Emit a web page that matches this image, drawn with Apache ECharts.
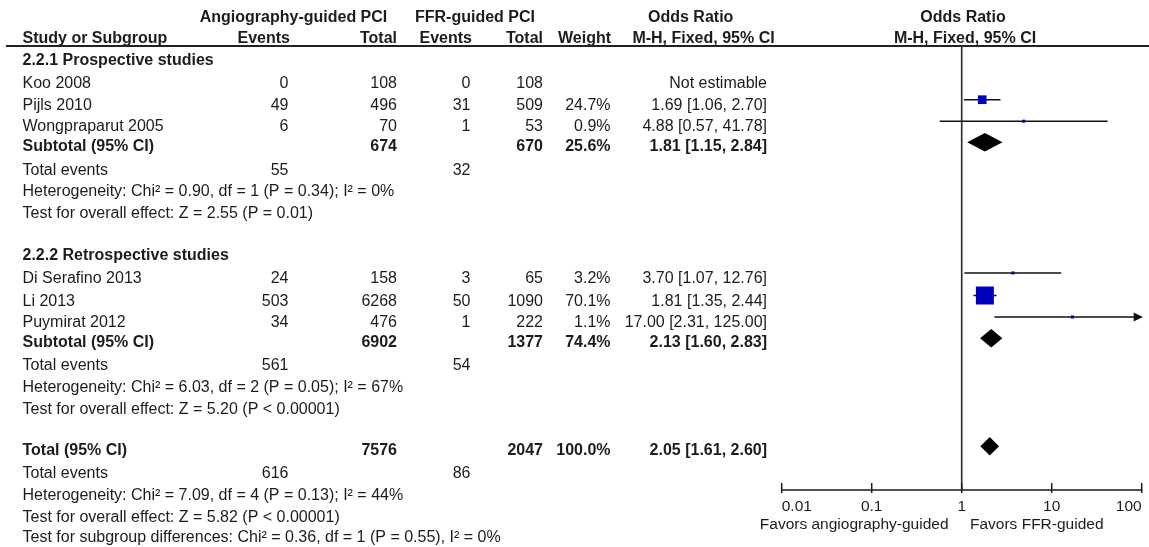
<!DOCTYPE html>
<html><head><meta charset="utf-8">
<script src="https://cdn.jsdelivr.net/npm/echarts@6/dist/echarts.min.js"></script>
<style>html,body{margin:0;padding:0;background:#fff}#c{width:1149px;height:547px}</style>
</head><body><div id="c"></div>
<script>
// ---------- DATA ----------
const studyNames   = ['Koo 2008', 'Pijls 2010', 'Wongpraparut 2005', 'Di Serafino 2013', 'Li 2013', 'Puymirat 2012'];
const studyGroup   = [0, 0, 0, 1, 1, 1];
const angioEvents  = [0, 49, 6, 24, 503, 34];
const angioTotal   = [108, 496, 70, 158, 6268, 476];
const ffrEvents    = [0, 31, 1, 3, 50, 1];
const ffrTotal     = [108, 509, 53, 65, 1090, 222];
const studyWeight  = [null, 24.7, 0.9, 3.2, 70.1, 1.1];
const studyOR      = [null, 1.69, 4.88, 3.70, 1.81, 17.00];
const studyLo      = [null, 1.06, 0.57, 1.07, 1.35, 2.31];
const studyHi      = [null, 2.70, 41.78, 12.76, 2.44, 125.00];

const groupNames     = ['2.2.1 Prospective studies', '2.2.2 Retrospective studies'];
const subAngioTotal  = [674, 6902];
const subFfrTotal    = [670, 1377];
const subWeight      = [25.6, 74.4];
const subOR          = [1.81, 2.13];
const subLo          = [1.15, 1.60];
const subHi          = [2.84, 2.83];
const subAngioEvents = [55, 561];
const subFfrEvents   = [32, 54];
const subChi         = ['0.90', '6.03'];
const subDf          = [1, 2];
const subHetP        = ['= 0.34', '= 0.05'];
const subI2          = [0, 67];
const subZ           = ['2.55', '5.20'];
const subZP          = ['= 0.01', '< 0.00001'];

const totAngioTotal = 7576, totFfrTotal = 2047, totWeight = '100.0';
const totOR = 2.05, totLo = 1.61, totHi = 2.60;
const totAngioEvents = 616, totFfrEvents = 86;
const totChi = '7.09', totDf = 4, totHetP = '= 0.13', totI2 = 44;
const totZ = '5.82', totZP = '< 0.00001';
const sgChi = '0.36', sgDf = 1, sgP = '= 0.55', sgI2 = 0;

const tickValues = [0.01, 0.1, 1, 10, 100];
const tickLabels = ['0.01', '0.1', '1', '10', '100'];
const favorsLeft = 'Favors angiography-guided';
const favorsRight = 'Favors FFR-guided';

// ---------- LAYOUT (pixels) ----------
const FONT = '"Liberation Sans", Arial, Helvetica, sans-serif';
const TXT = '#1c1c1c';
const col = { name: 22.5, aEv: 288.5, aTot: 397, fEv: 470.5, fTot: 543, wt: 610.5, orTxt: 767 };
const rowY = {
  h1: 18, h2: 38.7,
  groupTitle: [60.5, 255.3],
  study: [84, 105.5, 127, 278.7, 301.3, 322.8],
  sub: [146.5, 342.5], te: [171, 365.8], het: [192, 387.8], test: [213.5, 409.5],
  tot: 450.5, totTe: 473.8, totHet: 495.5, totTest: 517.2, sg: 537.8
};
const studyMarkShift = 5.8, diamondShift = 4.3;
const axisY = 490;

// ---------- TEXT ----------
const g = [];
function t(text, x, y, align, bold, size) {
  g.push({ type: 'text', x: x, y: y, z: 10, silent: true,
    style: { text: String(text), fill: TXT, align: align || 'left', verticalAlign: 'middle',
      font: (bold ? 'bold ' : '') + (size || 16) + 'px ' + FONT } });
}
const f2 = v => v.toFixed(2);
const orStr = (o, l, h) => f2(o) + ' [' + f2(l) + ', ' + f2(h) + ']';

// headers
t('Angiography-guided PCI', 293.5, rowY.h1, 'center', true);
t('FFR-guided PCI', 475, rowY.h1, 'center', true);
t('Odds Ratio', 690.7, rowY.h1, 'center', true);
t('Odds Ratio', 963, rowY.h1, 'center', true);
t('Study or Subgroup', col.name, rowY.h2, 'left', true);
t('Events', 290, rowY.h2, 'right', true);
t('Total', 397, rowY.h2, 'right', true);
t('Events', 472, rowY.h2, 'right', true);
t('Total', 543, rowY.h2, 'right', true);
t('Weight', 611, rowY.h2, 'right', true);
t('M-H, Fixed, 95% CI', 703.5, rowY.h2, 'center', true);
t('M-H, Fixed, 95% CI', 965, rowY.h2, 'center', true);

for (let gi = 0; gi < 2; gi++) {
  t(groupNames[gi], col.name, rowY.groupTitle[gi], 'left', true);
  for (let i = 0; i < studyNames.length; i++) {
    if (studyGroup[i] !== gi) continue;
    const y = rowY.study[i];
    t(studyNames[i], col.name, y);
    t(angioEvents[i], col.aEv, y, 'right');
    t(angioTotal[i], col.aTot, y, 'right');
    t(ffrEvents[i], col.fEv, y, 'right');
    t(ffrTotal[i], col.fTot, y, 'right');
    if (studyOR[i] == null) {
      t('Not estimable', col.orTxt, y, 'right');
    } else {
      t(studyWeight[i].toFixed(1) + '%', col.wt, y, 'right');
      t(orStr(studyOR[i], studyLo[i], studyHi[i]), col.orTxt, y, 'right');
    }
  }
  const ys = rowY.sub[gi];
  t('Subtotal (95% CI)', col.name, ys, 'left', true);
  t(subAngioTotal[gi], col.aTot, ys, 'right', true);
  t(subFfrTotal[gi], col.fTot, ys, 'right', true);
  t(subWeight[gi].toFixed(1) + '%', col.wt, ys, 'right', true);
  t(orStr(subOR[gi], subLo[gi], subHi[gi]), col.orTxt, ys, 'right', true);
  t('Total events', col.name, rowY.te[gi]);
  t(subAngioEvents[gi], col.aEv, rowY.te[gi], 'right');
  t(subFfrEvents[gi], col.fEv, rowY.te[gi], 'right');
  t('Heterogeneity: Chi\u00b2 = ' + subChi[gi] + ', df = ' + subDf[gi] + ' (P ' + subHetP[gi] + '); I\u00b2 = ' + subI2[gi] + '%', col.name, rowY.het[gi]);
  t('Test for overall effect: Z = ' + subZ[gi] + ' (P ' + subZP[gi] + ')', col.name, rowY.test[gi]);
}
t('Total (95% CI)', col.name, rowY.tot, 'left', true);
t(totAngioTotal, col.aTot, rowY.tot, 'right', true);
t(totFfrTotal, col.fTot, rowY.tot, 'right', true);
t(totWeight + '%', col.wt, rowY.tot, 'right', true);
t(orStr(totOR, totLo, totHi), col.orTxt, rowY.tot, 'right', true);
t('Total events', col.name, rowY.totTe);
t(totAngioEvents, col.aEv, rowY.totTe, 'right');
t(totFfrEvents, col.fEv, rowY.totTe, 'right');
t('Heterogeneity: Chi\u00b2 = ' + totChi + ', df = ' + totDf + ' (P ' + totHetP + '); I\u00b2 = ' + totI2 + '%', col.name, rowY.totHet);
t('Test for overall effect: Z = ' + totZ + ' (P ' + totZP + ')', col.name, rowY.totTest);
t('Test for subgroup differences: Chi\u00b2 = ' + sgChi + ', df = ' + sgDf + ' (P ' + sgP + '), I\u00b2 = ' + sgI2 + '%', col.name, rowY.sg);

t(favorsLeft, 948.5, 525, 'right', false, 15.5);
t(favorsRight, 970, 525, 'left', false, 15.5);

// header rule
g.push({ type: 'line', z: 11, silent: true, shape: { x1: 6, y1: 46, x2: 1149, y2: 46 }, style: { stroke: '#222', lineWidth: 2 } });

// ---------- SERIES DATA ----------
const studyData = [];
for (let i = 0; i < studyNames.length; i++) {
  if (studyOR[i] == null) continue;
  studyData.push([studyOR[i], studyLo[i], studyHi[i], rowY.study[i] - studyMarkShift, studyWeight[i]]);
}
const diamondData = [
  [subOR[0], subLo[0], subHi[0], rowY.sub[0] - diamondShift],
  [subOR[1], subLo[1], subHi[1], rowY.sub[1] - diamondShift],
  [totOR, totLo, totHi, rowY.tot - diamondShift]
];

const chart = echarts.init(document.getElementById('c'), null, { renderer: 'canvas' });
chart.setOption({
  animation: false,
  backgroundColor: '#fff',
  grid: { left: 781.7, right: 7.3, top: 0, height: axisY, containLabel: false },
  xAxis: {
    type: 'log', logBase: 10, min: 0.01, max: 100, position: 'bottom',
    axisLine: { show: true, onZero: false, lineStyle: { color: '#1a1a1a', width: 1.5 } },
    axisTick: { show: false },
    splitLine: { show: false },
    axisLabel: {
      show: true, color: TXT, fontSize: 15.5, fontFamily: FONT, margin: 9,
      alignMinLabel: 'left', alignMaxLabel: 'right',
      formatter: function (v) {
        for (let i = 0; i < tickValues.length; i++) if (Math.abs(Math.log10(v) - Math.log10(tickValues[i])) < 1e-6) return tickLabels[i];
        return '';
      }
    }
  },
  yAxis: { type: 'value', min: 0, max: axisY, inverse: true, show: false },
  graphic: g,
  series: [
    { // line of no effect
      type: 'line', data: [[1, 46], [1, axisY]], symbol: 'none', silent: true,
      lineStyle: { color: '#2a2a2a', width: 1.6 }, z: 1
    },
    { // axis ticks
      type: 'custom', silent: true, data: tickValues.map(v => [v]), z: 3,
      renderItem: function (params, api) {
        const p = api.coord([api.value(0), axisY]);
        return { type: 'line', shape: { x1: p[0], y1: p[1] - 7, x2: p[0], y2: p[1] + 3 }, style: { stroke: '#1a1a1a', lineWidth: 1.5 } };
      }
    },
    { // study CIs and squares
      type: 'custom', silent: true, data: studyData, z: 4, clip: false,
      renderItem: function (params, api) {
        const or = api.value(0), lo = api.value(1), hi = api.value(2), y = api.value(3), w = api.value(4);
        const pO = api.coord([or, y]);
        const pL = api.coord([lo, y]);
        const pH = api.coord([Math.min(hi, 100), y]);
        const ch = [];
        ch.push({ type: 'line', shape: { x1: pL[0], y1: pL[1], x2: pH[0], y2: pH[1] }, style: { stroke: '#111', lineWidth: 1.5 } });
        if (hi > 100) {
          ch.push({ type: 'polygon', shape: { points: [[pH[0] + 1, pH[1]], [pH[0] - 8, pH[1] - 4.5], [pH[0] - 8, pH[1] + 4.5]] }, style: { fill: '#111' } });
        }
        const s = Math.max(3, 18 * Math.pow(w / 70.1, 0.7));
        ch.push({ type: 'rect', shape: { x: pO[0] - s / 2, y: pO[1] - s / 2, width: s, height: s }, style: { fill: '#0000bb' } });
        return { type: 'group', children: ch };
      }
    },
    { // diamonds
      type: 'custom', silent: true, data: diamondData, z: 4,
      renderItem: function (params, api) {
        const y = api.value(3), h = 9.3;
        const pO = api.coord([api.value(0), y]);
        const pL = api.coord([api.value(1), y]);
        const pH = api.coord([api.value(2), y]);
        return { type: 'polygon', shape: { points: [[pL[0], y], [pO[0], y - h], [pH[0], y], [pO[0], y + h]] }, style: { fill: '#000' } };
      }
    }
  ]
});
</script>
</body></html>
